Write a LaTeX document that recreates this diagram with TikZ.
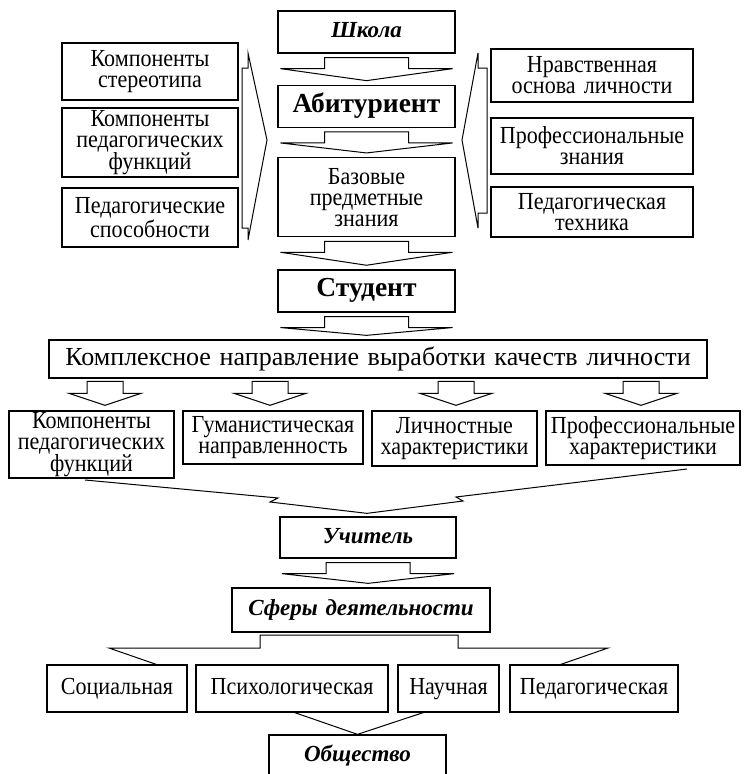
\documentclass[tikz,border=0pt]{standalone}
\usepackage{fontspec}
\setmainfont{Liberation Serif}
\newfontfamily\narrowfont{Liberation Serif}[FakeStretch=0.9]
\usetikzlibrary{positioning,calc}

\begin{document}
\begin{tikzpicture}[x=1pt, y=-1pt,
  every node/.style={font=\narrowfont\fontsize{24.5}{21}\selectfont},
  box/.style={draw, rectangle, fill=white, inner sep=0pt, align=center, line width=1.3pt},
  one/.style={text height=17pt, text depth=5pt},
  big/.style={font=\fontsize{26}{28}\selectfont},
  bold/.style={font=\fontsize{27.5}{28}\selectfont\bfseries, text height=18pt, text depth=6pt},
  boldit/.style={font=\fontsize{23}{26}\selectfont\bfseries\itshape, text height=16pt, text depth=5pt},
  blk/.style={draw, line width=1pt, line join=miter}]
  \useasboundingbox (0,0) rectangle (745,774);

  % main column
  \node[box, boldit, text width=177pt, minimum height=42pt] (shk) at (366.5,32) {Школа};
  \node[box, bold, text width=177pt, minimum height=42pt, below=31pt of shk] (abit) {Абитуриент};
  \node[box, text width=177pt, minimum height=79pt, below=29pt of abit] (baz) {Базовые\\предметные\\знания};
  \node[box, bold, text width=177pt, minimum height=42pt, below=32pt of baz] (stud) {Студент};

  % left and right columns
  \node[box, text width=176pt, minimum height=57pt] (l1) at (150,71.5) {Компоненты\\стереотипа};
  \node[box, text width=176pt, minimum height=69pt] (l2) at (150,142.5) {Компоненты\\педагогических\\функций};
  \node[box, text width=176pt, minimum height=59pt] (l3) at (150,217.5) {Педагогические\\способности};
  \node[box, text width=202pt, minimum height=53pt] (p1) at (592,75.5) {Нравственная\\основа личности};
  \node[box, text width=202pt, minimum height=56pt] (p2) at (592,146) {Профессиональные\\знания};
  \node[box, text width=202pt, minimum height=50pt] (p3) at (592,212) {Педагогическая\\техника};

  \node[box, big, one, text width=658pt, minimum height=38pt] (kompl) at (378,359) {Комплексное направление выработки качеств личности};

  \node[box, text width=165pt, minimum height=67pt] (r1) at (91.5,444.5) {Компоненты\\педагогических\\функций};
  \node[box, text width=180pt, minimum height=53pt] (r2) at (273,437.5) {Гуманистическая\\направленность};
  \node[box, text width=165pt, minimum height=55pt] (r3) at (454.5,438.5) {Личностные\\характеристики};
  \node[box, text width=194pt, minimum height=54pt] (r4) at (643,438) {Профессиональные\\характеристики};

  \node[box, boldit, text width=176pt, minimum height=41pt] (uch) at (368,537.5) {Учитель};
  \node[box, boldit, text width=258pt, minimum height=44pt] (sfer) at (361,610) {Сферы деятельности};

  % split arrow under the row
  \draw[blk] (158,665) -- (109,648) -- (260,648) -- (260,635) -- (458,635) -- (458,648) -- (608,648) -- (559,665);

  \node[box, one, text width=140pt, minimum height=47pt] (b1) at (117,688.5) {Социальная};
  \node[box, one, text width=192pt, minimum height=47pt] (b2) at (292,688.5) {Психологическая};
  \node[box, one, text width=101pt, minimum height=47pt] (b3) at (448.5,688.5) {Научная};
  \node[box, one, text width=168pt, minimum height=47pt] (b4) at (594,688.5) {Педагогическая};

  \node[box, boldit, text width=177pt, minimum height=42pt] (obsch) at (357.5,756) {Общество};

  % block arrows
  \foreach \a/\b in {shk/abit, abit/baz, baz/stud, stud/kompl, uch/sfer}
    \draw[blk] ($(\a.south)+(-42,4)$) -- ++(0,11) -- ++(-44,0)
      -- ($(\a.south |- \b.north)+(0,-4)$)
      -- ($(\a.south)+(86,15)$) -- ++(-44,0) -- ++(0,-11) -- cycle;
  \foreach \r/\dx in {r1/13.5, r2/-3, r3/1.5, r4/-2}
    \draw[blk] ($(\r.north)+(\dx-18,-29)$) -- ++(0,12) -- ++(-18,0)
      -- ($(\r.north)+(\dx,-5)$)
      -- ($(\r.north)+(\dx+36,-17)$) -- ++(-18,0) -- ++(0,-12) -- cycle;

  % side arrows
  \draw[blk] (242,68) -- (248,68) -- (248,53) -- (267,140) -- (248,240) -- (248,228) -- (242,228) -- cycle;
  \draw[blk] (487,68) -- (478,68) -- (478,53) -- (462,140) -- (478,228) -- (478,213) -- (487,213) -- cycle;

  % converging arrows
  \draw[blk] (85,480) -- (278,498) -- (270,502) -- ($(uch.north)+(-1,-3)$) -- (463,501) -- (456,497) -- (687,469);
  \draw[blk] (293,712) -- (obsch.north) -- (425,712);
\end{tikzpicture}
\end{document}
